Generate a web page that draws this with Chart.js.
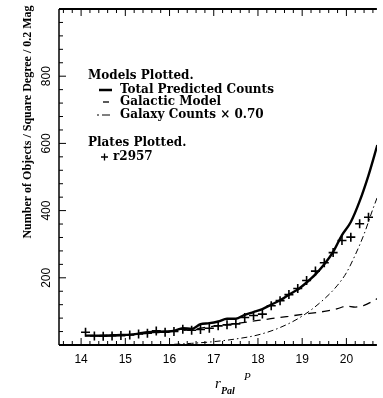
<!DOCTYPE html>
<html>
<head>
<meta charset="utf-8">
<script src="https://cdn.jsdelivr.net/npm/chart.js@4/dist/chart.umd.min.js"></script>
<style>
  html, body { margin: 0; padding: 0; background: #fff; }
  canvas { display: block; }
</style>
</head>
<body>
<canvas id="chart" width="383" height="398"></canvas>
<script>
// magnitude bins and counts
const totalMag = [14.1, 14.3, 14.5, 14.7, 14.9, 15.1, 15.3, 15.5, 15.7, 15.9, 16.1, 16.3, 16.5, 16.7, 16.9, 17.1, 17.3, 17.5, 17.7, 17.9, 18.1, 18.3, 18.5, 18.7, 18.9, 19.1, 19.3, 19.5, 19.7, 19.9, 20.1, 20.3, 20.5, 20.7];
const totalCounts = [28, 28, 28, 29, 30, 31, 34, 38, 39, 40, 42, 50, 48, 62, 65, 70, 78, 78, 90, 98, 107, 120, 133, 150, 165, 186, 210, 240, 277, 327, 366, 428, 505, 595];

const galacticMag = [14.1, 15.1, 16.1, 16.5, 17.0, 17.5, 18.0, 18.5, 19.0, 19.5, 19.8, 20.0, 20.2, 20.4, 20.7];
const galacticCounts = [28, 31, 41, 46, 56, 64, 73, 82, 91, 100, 108, 116, 113, 118, 138];

const galaxyMag = [15.8, 16.5, 17.0, 17.5, 18.0, 18.5, 19.0, 19.5, 19.8, 20.0, 20.2, 20.4, 20.6, 20.7];
const galaxyCounts = [0, 5, 10, 18, 30, 52, 86, 137, 178, 215, 268, 330, 405, 440];

const plateMag = [14.1, 14.3, 14.5, 14.7, 14.9, 15.1, 15.3, 15.5, 15.7, 15.9, 16.1, 16.3, 16.5, 16.7, 16.9, 17.1, 17.3, 17.5, 17.7, 17.9, 18.1, 18.3, 18.5, 18.7, 18.9, 19.1, 19.3, 19.5, 19.7, 19.9, 20.1, 20.3, 20.5];
const plateCounts = [38, 27, 26, 27, 28, 30, 33, 35, 42, 38, 40, 47, 44, 46, 50, 57, 60, 63, 82, 88, 92, 117, 132, 150, 168, 192, 220, 245, 275, 311, 321, 361, 380];

const xTicks = [14, 15, 16, 17, 18, 19, 20];
const yTicks = [200, 400, 600, 800];

const toPoints = (xs, ys) => xs.map((x, i) => ({ x, y: ys[i] }));

const legendFont = 'bold 12px "DejaVu Serif"';
const tickFont = '12px "Liberation Sans"';

// frame, inward ticks, rotated y labels, titles and the text legend
const decorations = {
  id: 'decorations',
  afterDraw(chart) {
    const ctx = chart.ctx;
    const { left, right, top, bottom } = chart.chartArea;
    const xs = chart.scales.x;
    const ys = chart.scales.y;
    ctx.save();
    ctx.strokeStyle = '#000';
    ctx.fillStyle = '#000';

    // frame
    ctx.lineWidth = 2;
    ctx.beginPath();
    ctx.moveTo(left, top); ctx.lineTo(right, top);
    ctx.moveTo(left, bottom); ctx.lineTo(right, bottom);
    ctx.stroke();
    ctx.lineWidth = 1.5;
    ctx.beginPath();
    ctx.moveTo(left, top); ctx.lineTo(left, bottom);
    ctx.stroke();

    // x ticks every 0.2 mag, pointing inward on bottom and top
    ctx.lineWidth = 1;
    ctx.beginPath();
    for (let k = Math.ceil(xs.min * 5); k <= Math.floor(xs.max * 5); k++) {
      const v = k / 5;
      const px = xs.getPixelForValue(v);
      const len = k % 5 === 0 ? 7 : 4;
      ctx.moveTo(px, bottom); ctx.lineTo(px, bottom - len);
      ctx.moveTo(px, top); ctx.lineTo(px, top + len);
    }
    // y ticks every 40
    for (let v = 40; v < ys.max; v += 40) {
      const py = ys.getPixelForValue(v);
      const len = v % 200 === 0 ? 7 : 4;
      ctx.moveTo(left, py); ctx.lineTo(left + len, py);
    }
    ctx.stroke();

    // rotated y tick labels
    ctx.font = tickFont;
    ctx.textAlign = 'center';
    ctx.textBaseline = 'middle';
    yTicks.forEach(v => {
      ctx.save();
      ctx.translate(47, ys.getPixelForValue(v));
      ctx.rotate(-Math.PI / 2);
      ctx.fillText(String(v), 0, 0);
      ctx.restore();
    });

    // y title
    ctx.save();
    ctx.font = 'bold 12px "Liberation Serif"';
    ctx.translate(28, 122);
    ctx.rotate(-Math.PI / 2);
    ctx.fillText('Number of Objects / Square Degree / 0.2 Mag', 0, 0);
    ctx.restore();

    // x title r_Pal^P
    ctx.textAlign = 'left';
    ctx.font = 'italic 15px "Liberation Serif"';
    ctx.fillText('r', 215, 384);
    ctx.font = 'italic bold 10px "Liberation Serif"';
    ctx.fillText('Pal', 221, 391);
    ctx.font = 'italic 11px "Liberation Serif"';
    ctx.fillText('P', 244, 377);

    // legend
    ctx.font = legendFont;
    ctx.fillText('Models Plotted.', 88, 76);
    ctx.fillText('Total Predicted Counts', 120, 90);
    ctx.fillText('Galactic Model', 120, 102);
    ctx.fillText('Galaxy Counts \u00d7 0.70', 120, 115);
    ctx.fillText('Plates Plotted.', 88, 143);
    ctx.fillText('r2957', 113, 157);

    ctx.lineWidth = 2.5;
    ctx.beginPath(); ctx.moveTo(99, 90); ctx.lineTo(112, 90); ctx.stroke();
    ctx.lineWidth = 1.3;
    ctx.beginPath(); ctx.moveTo(103, 102); ctx.lineTo(109, 102); ctx.stroke();
    ctx.lineWidth = 1;
    ctx.beginPath();
    ctx.moveTo(97, 115); ctx.lineTo(99, 115);
    ctx.moveTo(102, 115); ctx.lineTo(110, 115);
    ctx.stroke();
    ctx.lineWidth = 1.3;
    ctx.beginPath();
    ctx.moveTo(101, 157); ctx.lineTo(108, 157);
    ctx.moveTo(104.5, 153.5); ctx.lineTo(104.5, 160.5);
    ctx.stroke();

    ctx.restore();
  }
};

new Chart(document.getElementById('chart'), {
  type: 'line',
  data: {
    datasets: [
      {
        label: 'Total Predicted Counts',
        data: toPoints(totalMag, totalCounts),
        borderColor: '#000',
        borderWidth: 2.4,
        pointRadius: 0,
        cubicInterpolationMode: 'monotone',
      },
      {
        label: 'Galactic Model',
        data: toPoints(galacticMag, galacticCounts),
        borderColor: '#000',
        borderWidth: 1.3,
        borderDash: [8, 6],
        pointRadius: 0,
        cubicInterpolationMode: 'monotone',
      },
      {
        label: 'Galaxy Counts x 0.70',
        data: toPoints(galaxyMag, galaxyCounts),
        borderColor: '#000',
        borderWidth: 1,
        borderDash: [6, 3, 1.5, 3],
        pointRadius: 0,
        cubicInterpolationMode: 'monotone',
      },
      {
        label: 'r2957',
        data: toPoints(plateMag, plateCounts),
        showLine: false,
        borderColor: '#000',
        pointStyle: 'cross',
        pointRadius: 4.5,
        pointBorderWidth: 1.6,
      },
    ],
  },
  options: {
    responsive: false,
    animation: false,
    devicePixelRatio: 1,
    layout: { padding: { top: 9, right: 0, left: 0, bottom: 0 } },
    plugins: { legend: { display: false }, tooltip: { enabled: false } },
    scales: {
      x: {
        type: 'linear',
        min: 13.5,
        max: 20.69,
        grid: { display: false, drawTicks: false },
        border: { display: false },
        afterBuildTicks: (scale) => { scale.ticks = xTicks.map(v => ({ value: v })); },
        afterFit: (scale) => { scale.height = 53; },
        ticks: {
          color: '#000',
          padding: 7,
          maxRotation: 0,
          font: { family: 'Liberation Sans', size: 12 },
          callback: (v) => String(v),
        },
      },
      y: {
        type: 'linear',
        min: 0,
        max: 1000,
        grid: { display: false, drawTicks: false },
        border: { display: false },
        ticks: { display: false },
        afterFit: (scale) => { scale.width = 59; },
      },
    },
  },
  plugins: [decorations],
});
</script>
</body>
</html>
